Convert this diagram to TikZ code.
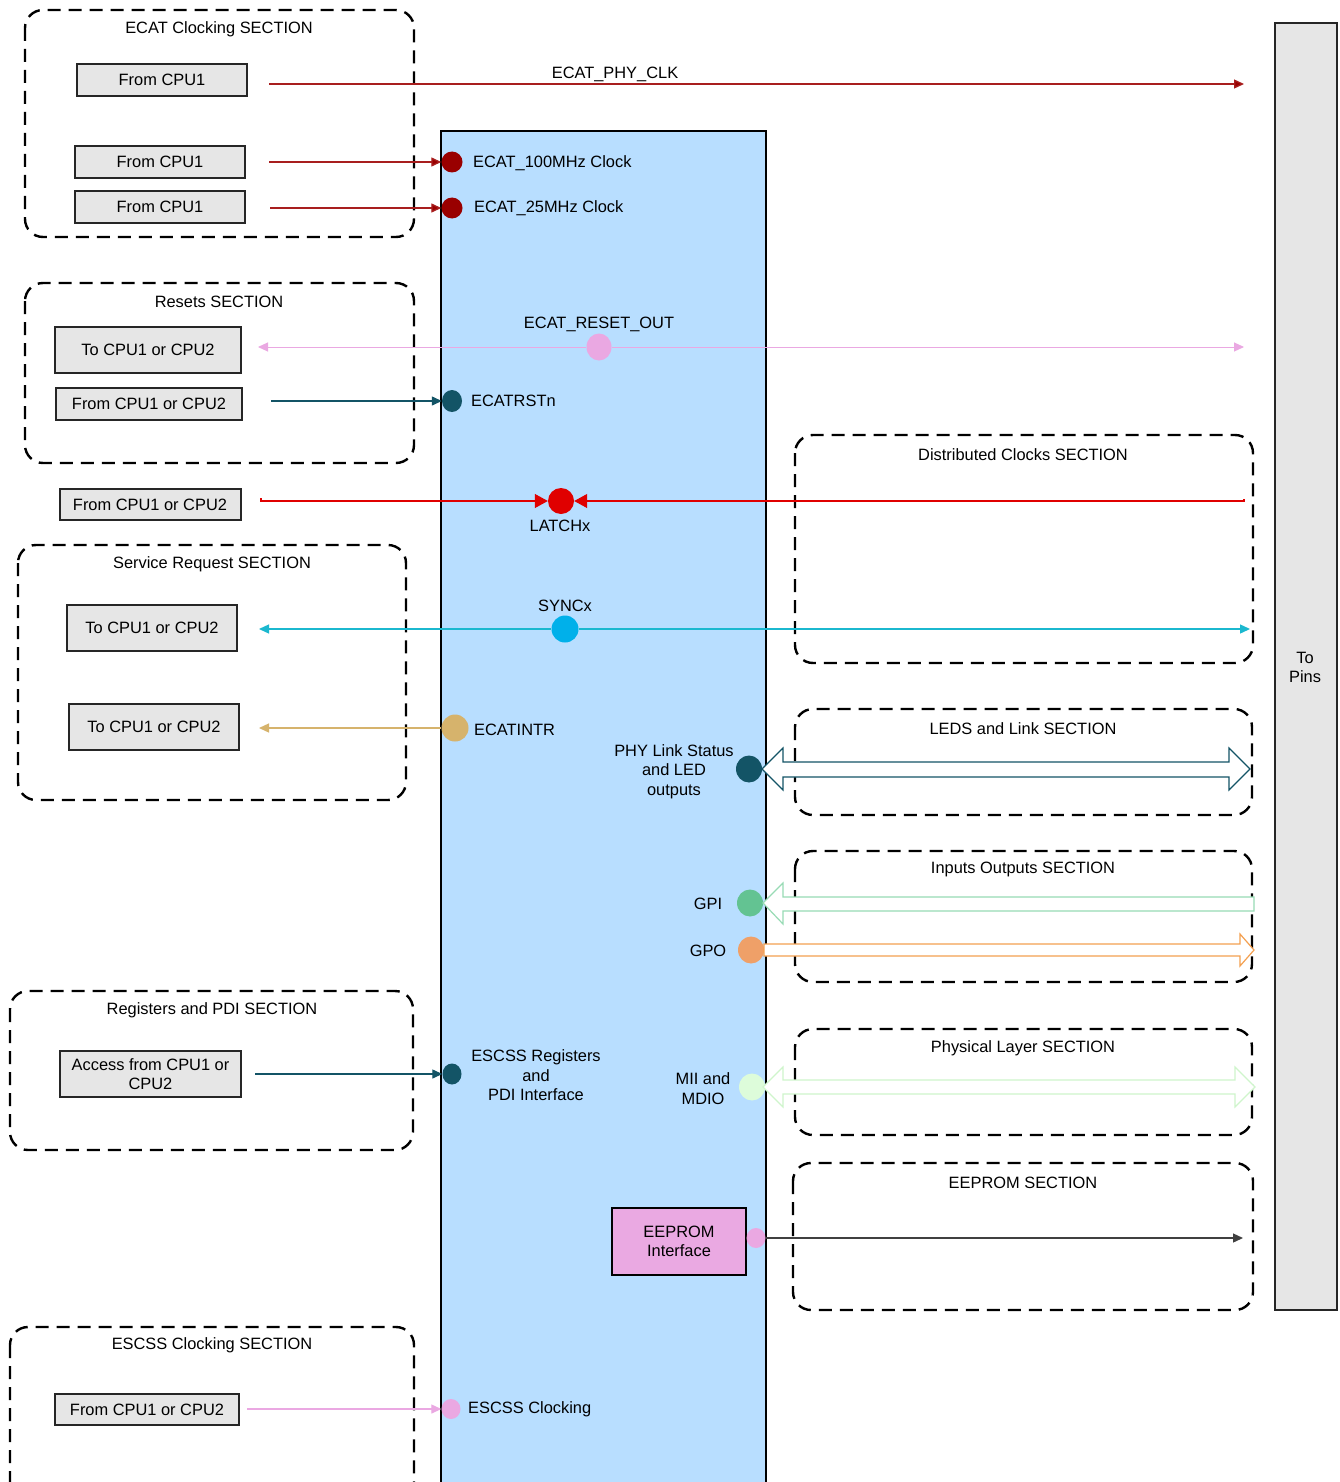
\documentclass[tikz,border=0pt]{standalone}
\usepackage{fontspec}
\setmainfont{Liberation Sans}
\usetikzlibrary{arrows.meta,shapes.geometric}
\definecolor{dred}{HTML}{990000}
\definecolor{lredc}{HTML}{A81E1E}
\definecolor{pinkc}{HTML}{EAA8E2}
\definecolor{tealc}{HTML}{135466}
\definecolor{redc}{HTML}{E00000}
\definecolor{cyanl}{HTML}{1BB8CF}
\definecolor{cyand}{HTML}{00B0EA}
\definecolor{tanc}{HTML}{D6B36C}
\definecolor{greend}{HTML}{63C392}
\definecolor{greenl}{HTML}{98DBB5}
\definecolor{orangd}{HTML}{EFA068}
\definecolor{orangl}{HTML}{F4A050}
\definecolor{mintd}{HTML}{DDFCDA}
\definecolor{mintl}{HTML}{CFF5CC}
\definecolor{blockc}{HTML}{B8DEFF}
\definecolor{grayc}{HTML}{E6E6E6}
\definecolor{eepc}{HTML}{EAA9E2}
\begin{document}
\begin{tikzpicture}[x=1pt,y=-1pt,
  font=\fontsize{16.4}{19.5}\selectfont,
  sect/.style={draw=black, line width=2.4pt, dash pattern=on 13pt off 8pt, rounded corners=18pt},
  cpubox/.style={draw=black!85, fill=grayc, line width=2pt, inner sep=0, align=center},
  dot/.style={circle, inner sep=0, minimum size=21pt},
  edot/.style={ellipse, inner sep=0},
  lbl/.style={inner sep=0, anchor=west, yshift=-1.5pt},
  ttl/.style={inner sep=0, yshift=-1.5pt},
  conn/.style={line width=1.3pt},
  tip/.style={-{Triangle[length=10pt,width=9pt]}},
  rtip/.style={-{Triangle[length=10pt,width=9pt,fill=dred]}},
  bigtip/.style={-{Triangle[length=13pt,width=14pt]}},
  hollow/.style={line width=1.2pt, fill=white, line join=miter}
]
\clip (0,0) rectangle (1340,1482);
\fill[white] (0,0) rectangle (1340,1482);

% main block and pins
\draw[fill=blockc, line width=2pt] (441,131) rectangle (766,1495);
\node[draw=black!85, fill=grayc, line width=2pt, minimum width=62pt, minimum height=1287pt, inner sep=0] (pins) at (1306,666.5) {};
\node[ttl, align=center] (pinst) at (1305,666) {To\\Pins};

% section frames
\draw[sect] (25,10) rectangle (414,237);
\node[ttl] (s1) at (219,28) {ECAT Clocking SECTION};
\draw[sect] (25,283) rectangle (414,463);
\node[ttl] (s2) at (219,300) {Resets SECTION};
\draw[sect] (795,435) rectangle (1253,663);
\node[ttl] (s3) at (1023,453) {Distributed Clocks SECTION};
\draw[sect] (18,545) rectangle (406,800);
\node[ttl] (s4) at (212,563) {Service Request SECTION};
\draw[sect] (795,709) rectangle (1252,815);
\node[ttl] (s5) at (1023,727) {LEDS and Link SECTION};
\draw[sect] (795,851) rectangle (1252,982);
\node[ttl] (s6) at (1023,868) {Inputs Outputs SECTION};
\draw[sect] (10,991) rectangle (413,1150);
\node[ttl] (s7) at (212,1009) {Registers and PDI SECTION};
\draw[sect] (795,1029) rectangle (1252,1135);
\node[ttl] (s8) at (1023,1047) {Physical Layer SECTION};
\draw[sect] (793,1163) rectangle (1253,1310);
\node[ttl] (s9) at (1023,1181) {EEPROM SECTION};
\draw[sect] (10,1327) rectangle (414,1530);
\node[ttl] (s10) at (212,1344) {ESCSS Clocking SECTION};

% CPU boxes
\node[cpubox, minimum width=170pt, minimum height=32pt] (b1) at (162,80) {From CPU1};
\node[cpubox, minimum width=170pt, minimum height=32pt] (b2) at (160,162) {From CPU1};
\node[cpubox, minimum width=170pt, minimum height=32pt] (b3) at (160,207) {From CPU1};
\node[cpubox, minimum width=186pt, minimum height=46pt] (b4) at (148,350) {To CPU1 or CPU2};
\node[cpubox, minimum width=186pt, minimum height=32pt] (b5) at (149,404) {From CPU1 or CPU2};
\node[cpubox, minimum width=181pt, minimum height=31pt] (b6) at (150,504.5) {From CPU1 or CPU2};
\node[cpubox, minimum width=170pt, minimum height=46pt] (b7) at (152,628) {To CPU1 or CPU2};
\node[cpubox, minimum width=170pt, minimum height=46pt] (b8) at (154,727) {To CPU1 or CPU2};
\node[cpubox, minimum width=181pt, minimum height=46pt] (b9) at (150.5,1074) {Access from CPU1 or\\CPU2};
\node[cpubox, minimum width=184pt, minimum height=31pt] (b10) at (147,1409.5) {From CPU1 or CPU2};
\node[draw=black, fill=eepc, line width=2pt, minimum width=134pt, minimum height=67pt, inner sep=0, align=center] (eep) at (679,1241.5) {EEPROM\\Interface};

% endpoints
\coordinate (phyR) at (1244,84);
\coordinate (rstL) at (258,347);
\coordinate (rstR) at (1244,347);
\coordinate (latL) at (261,498);
\coordinate (latR) at (1244,499);
\coordinate (syncL) at (259,629);
\coordinate (syncR) at (1250,629);
\coordinate (intL) at (259,728);
\coordinate (eepR) at (1243,1238);

% dots
\node[dot, fill=dred] (d100) at (452,162) {};
\node[dot, fill=dred] (d25) at (452,208) {};
\node[edot, fill=pinkc, minimum width=25pt, minimum height=27pt] (drst) at (599,347) {};
\node[edot, fill=tealc, minimum width=20pt, minimum height=22pt] (drstn) at (452,401) {};
\node[dot, fill=redc, minimum size=26pt] (dlat) at (561,501) {};
\node[dot, fill=cyand, minimum size=27pt] (dsync) at (565,629) {};
\node[dot, fill=tanc, minimum size=27pt] (dint) at (455,728) {};
\node[edot, fill=tealc, minimum width=26pt, minimum height=27pt] (dphy) at (749,769) {};
\node[edot, fill=greend, minimum width=26pt, minimum height=27pt] (dgpi) at (750,903) {};
\node[edot, fill=orangd, minimum width=26pt, minimum height=27pt] (dgpo) at (751,950) {};
\node[edot, fill=tealc, minimum width=19pt, minimum height=21pt] (dreg) at (452,1074) {};
\node[edot, fill=mintd, minimum width=26pt, minimum height=27pt] (dmii) at (752,1087) {};
\node[edot, fill=pinkc, minimum width=19pt, minimum height=20pt] (deep) at (756,1238) {};
\node[edot, fill=pinkc, minimum width=19pt, minimum height=20pt] (desc) at (451,1409) {};

% connectors
\draw[conn, lredc, rtip] ([xshift=21pt]b1.east |- phyR) -- (phyR);
\draw[conn, lredc, rtip] ([xshift=23pt]b2.east |- d100) -- (d100.west);
\draw[conn, lredc, rtip] ([xshift=24pt]b3.east |- d25) -- (d25.west);
\draw[line width=1pt, pinkc, tip] (drst.west) -- (rstL);
\draw[line width=1pt, pinkc, tip] (drst.east) -- (rstR);
\draw[conn, tealc, tip] ([xshift=28pt]b5.east |- drstn) -- (drstn.west);
\draw[line width=1.1pt, redc, bigtip] (latL) -- (261,501) -- (dlat.west);
\draw[line width=1.1pt, redc, bigtip] (latR) -- (1244,501) -- (dlat.east);
\draw[conn, cyanl, tip] (dsync.west) -- (syncL);
\draw[conn, cyanl, tip] (dsync.east) -- (syncR);
\draw[conn, tanc, tip] (dint.west) -- (intL);
\draw[conn, tealc, tip] ([xshift=13pt]b9.east |- dreg) -- (dreg.west);
\draw[conn, pinkc, tip] ([xshift=7pt]b10.east |- desc) -- (desc.west);
\draw[conn, black!75, tip] (deep.east) -- (eepR);

% hollow block arrows
\draw[hollow, draw=tealc] (762,769) -- (783,748) -- (783,762) -- (1229,762) -- (1229,748) -- (1250,769)
  -- (1229,790) -- (1229,777) -- (783,777) -- (783,790) -- cycle;
\draw[hollow, draw=greenl] (763,903) -- (783,883) -- (783,897) -- (1254,897) -- (1254,911) -- (783,911) -- (783,924) -- cycle;
\draw[hollow, draw=orangl] (764,944) -- (1240,944) -- (1240,934) -- (1254,950) -- (1240,966) -- (1240,956) -- (764,956) -- cycle;
\draw[hollow, draw=mintl] (763,1087) -- (783,1067) -- (783,1080) -- (1235,1080) -- (1235,1067) -- (1255,1087)
  -- (1235,1107) -- (1235,1094) -- (783,1094) -- (783,1107) -- cycle;

% labels
\node[ttl] (lphy) at (615,73) {ECAT\_PHY\_CLK};
\node[lbl] (l100) at (473,162) {ECAT\_100MHz Clock};
\node[lbl] (l25) at (474,207) {ECAT\_25MHz Clock};
\node[ttl] (lrst) at (599,323) {ECAT\_RESET\_OUT};
\node[lbl] (lrstn) at (471,399) {ECATRSTn};
\node[ttl] (llat) at (560,524) {LATCHx};
\node[ttl] (lsync) at (565,604) {SYNCx};
\node[lbl] (lint) at (474,728) {ECATINTR};
\node[ttl, align=center] (lphys) at (674,770) {PHY Link Status\\and LED\\outputs};
\node[ttl] (lgpi) at (708,902) {GPI};
\node[ttl] (lgpo) at (708,949) {GPO};
\node[ttl, align=center] (lreg) at (536,1074) {ESCSS Registers\\and\\PDI Interface};
\node[ttl, align=center] (lmii) at (703,1087) {MII and\\MDIO};
\node[lbl] (lesc) at (468,1408) {ESCSS Clocking};
\end{tikzpicture}
\end{document}
